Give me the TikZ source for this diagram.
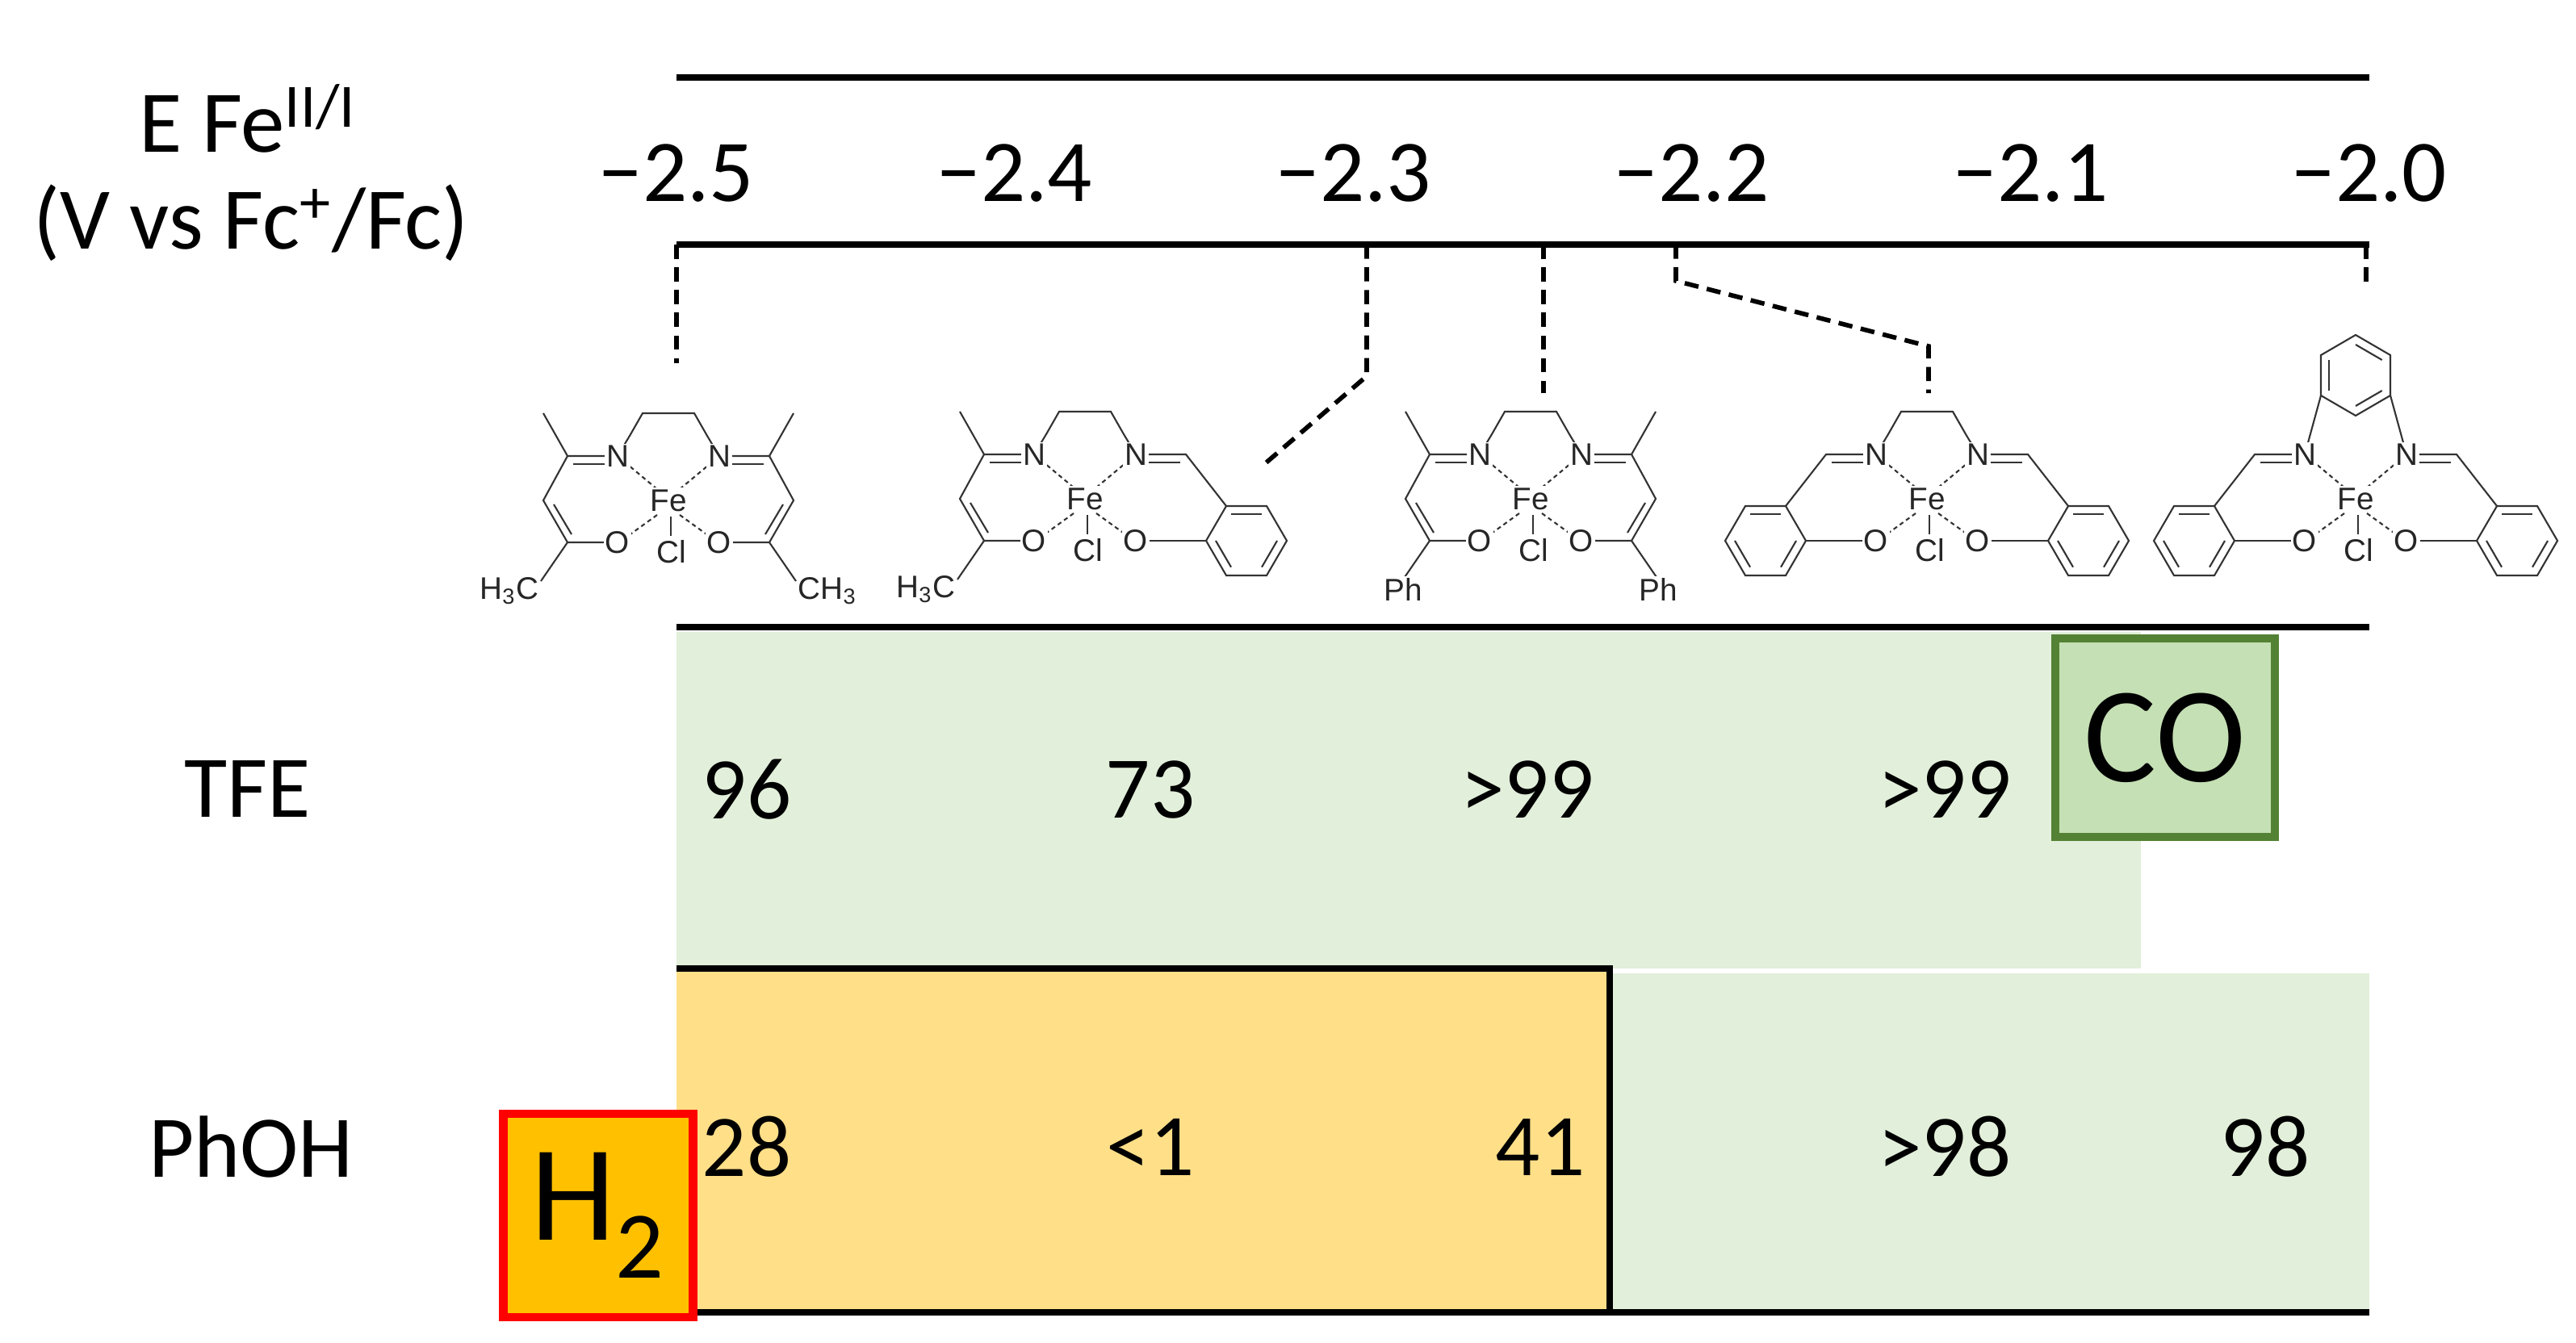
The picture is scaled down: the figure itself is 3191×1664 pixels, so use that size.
\documentclass[tikz,border=0pt]{standalone}
\usepackage{fontspec}
\setmainfont{Carlito}
\newfontfamily\chemf{Liberation Sans}
\usetikzlibrary{calc}
\definecolor{lgreen}{HTML}{E2EFDA}
\definecolor{cogreen}{HTML}{C5E0B4}
\definecolor{codark}{HTML}{548235}
\definecolor{lorange}{HTML}{FFDF88}
\definecolor{hgold}{HTML}{FFC000}
\tikzset{
 big/.style={font=\fontsize{31}{34}\selectfont},
 huge/.style={font=\fontsize{48}{52}\selectfont},
 axisline/.style={line width=2.4pt},
 leader/.style={line width=1.6pt,dash pattern=on 5pt off 3pt},
 bond/.style={line width=0.6pt,black!80},
 coord/.style={line width=0.6pt,black!80,dash pattern=on 1.5pt off 1.2pt},
 atom/.style={font=\chemf\fontsize{11}{12}\selectfont,fill=white,inner sep=0.6pt,text=black!85},
}
\newcommand\acacarm[2]{%
 \draw[bond] (-125,-55)--(-155,-108);
 \draw[bond] (-63,-55)--(-125,-55)--(-155,0)--(-125,52)--(-63,52);
 \draw[bond] (-118,-45)--(-78,-45);
 \draw[bond] (-142,5)--(-120,42);
 \draw[bond] (-125,52)--(-158,100);
 \node[atom,anchor=#2] at (-158,112) {#1};
}
\newcommand\salarm{%
 \draw[bond] (-63,-55)--(-125,-55)--(-175,9);
 \draw[bond] (-118,-45)--(-78,-45);
 \draw[bond] (-63,52)--(-150,52);
 \coordinate (c) at (-200,52);
 \draw[bond] (-150,52)--(-175,9)--(-225,9)--(-250,52)--(-225,95)--(-175,95)--cycle;
 \draw[bond] ($(c)!.76!(-175,9)$)--($(c)!.76!(-225,9)$);
 \draw[bond] ($(c)!.76!(-250,52)$)--($(c)!.76!(-225,95)$);
 \draw[bond] ($(c)!.76!(-175,95)$)--($(c)!.76!(-150,52)$);
}
\newcommand\core[1]{%
 \ifnum#1=0
  \draw[bond] (-63,-55)--(-48,-80)--(-32,-108)--(32,-108)--(48,-80)--(63,-55);
 \else
  \draw[bond] (-63,-55)--(-43,-128);
  \draw[bond] (63,-55)--(43,-128);
  \coordinate (r) at (0,-153);
  \draw[bond] (0,-203)--(43,-178)--(43,-128)--(0,-103)--(-43,-128)--(-43,-178)--cycle;
  \draw[bond] ($(r)!.76!(0,-203)$)--($(r)!.76!(43,-178)$);
  \draw[bond] ($(r)!.76!(43,-128)$)--($(r)!.76!(0,-103)$);
  \draw[bond] ($(r)!.76!(-43,-128)$)--($(r)!.76!(-43,-178)$);
 \fi
 \draw[coord] (-14,-14)--(-50,-44);
 \draw[coord] (14,-14)--(50,-44);
 \draw[coord] (-14,18)--(-50,44);
 \draw[coord] (14,18)--(50,44);
 \draw[bond] (3,20)--(3,44);
 \node[atom] at (-63,-55) {N};
 \node[atom] at (63,-55) {N};
 \node[atom] at (-63,52) {O};
 \node[atom] at (63,52) {O};
 \node[atom] at (0,0) {Fe};
 \node[atom] at (4,64) {Cl};
}
\begin{document}
\begin{tikzpicture}[x=0.01cm,y=-0.01cm]
\useasboundingbox (0,0) rectangle (3191,1664);
% axis
\draw[axisline] (838,96)--(2935,96);
\draw[axisline] (838,303)--(2935,303);
\foreach \x/\l in {838/2.5,1257/2.4,1677/2.3,2096/2.2,2516/2.1,2935/2.0}
  \node[big] at (\x,215) {−\l};
\node[big] at (307,147) {E Fe\textsuperscript{II/I}};
\node[big] at (311,276) {(V vs Fc\textsuperscript{+}/Fc)};
% leaders
\coordinate (t1) at (838,303); \coordinate (b1) at (838,450);
\draw[leader] (t1)--(b1);
\coordinate (t2) at (1693,303); \coordinate (m2) at (1693,466); \coordinate (b2) at (1564,577);
\draw[leader] (t2)--(m2)--(b2);
\coordinate (t3) at (1912,303); \coordinate (b3) at (1912,487);
\draw[leader] (t3)--(b3);
\coordinate (t4) at (2076,303); \coordinate (m4) at (2076,348); \coordinate (n4) at (2389,429); \coordinate (b4) at (2389,487);
\draw[leader] (t4)--(m4)--(n4)--(b4);
\coordinate (t5) at (2931,303); \coordinate (b5) at (2931,358);
\draw[leader] (t5)--(b5);
% structures
\begin{scope}[shift={(828,620)}]
 \acacarm{H\textsubscript{3}C}{east}
 \begin{scope}[xscale=-1]\acacarm{CH\textsubscript{3}}{west}\end{scope}
 \core{0}
\end{scope}
\begin{scope}[shift={(1344,618)}]
 \acacarm{H\textsubscript{3}C}{east}
 \begin{scope}[xscale=-1]\salarm\end{scope}
 \core{0}
\end{scope}
\begin{scope}[shift={(1896,618)}]
 \acacarm{Ph}{center}
 \begin{scope}[xscale=-1]\acacarm{Ph}{center}\end{scope}
 \core{0}
\end{scope}
\begin{scope}[shift={(2387,618)}]
 \salarm
 \begin{scope}[xscale=-1]\salarm\end{scope}
 \core{0}
\end{scope}
\begin{scope}[shift={(2918,618)}]
 \salarm
 \begin{scope}[xscale=-1]\salarm\end{scope}
 \core{1}
\end{scope}
% table
\fill[lgreen] (838,783) rectangle (2652,1200);
\fill[lgreen] (1994,1206) rectangle (2935,1626);
\fill[lorange] (838,1200) rectangle (1994,1626);
\draw[axisline] (838,777)--(2935,777);
\draw[axisline] (838,1200)--(1994,1200)--(1994,1626);
\draw[axisline] (838,1626)--(2935,1626);
\node[big] at (307,978) {TFE};
\node[big] at (311,1421) {PhOH};
\foreach \x/\t in {925/96,1425/73,1892/>99,2409/>99}
  \node[big] at (\x,978) {\t};
\foreach \x/\t in {925/28,1425/<1,1908/41,2409/>98,2806/98}
  \node[big] at (\x,1421) {\t};
\node[draw=codark,fill=cogreen,line width=3pt,huge,minimum width=2.72cm,minimum height=2.46cm,inner sep=0pt] (co) at (2682,914) {CO};
\node[draw=red,fill=hgold,line width=3pt,huge,minimum width=2.35cm,minimum height=2.52cm,inner sep=0pt] (h2) at (741,1506) {H\textsubscript{2}};
\end{tikzpicture}
\end{document}
